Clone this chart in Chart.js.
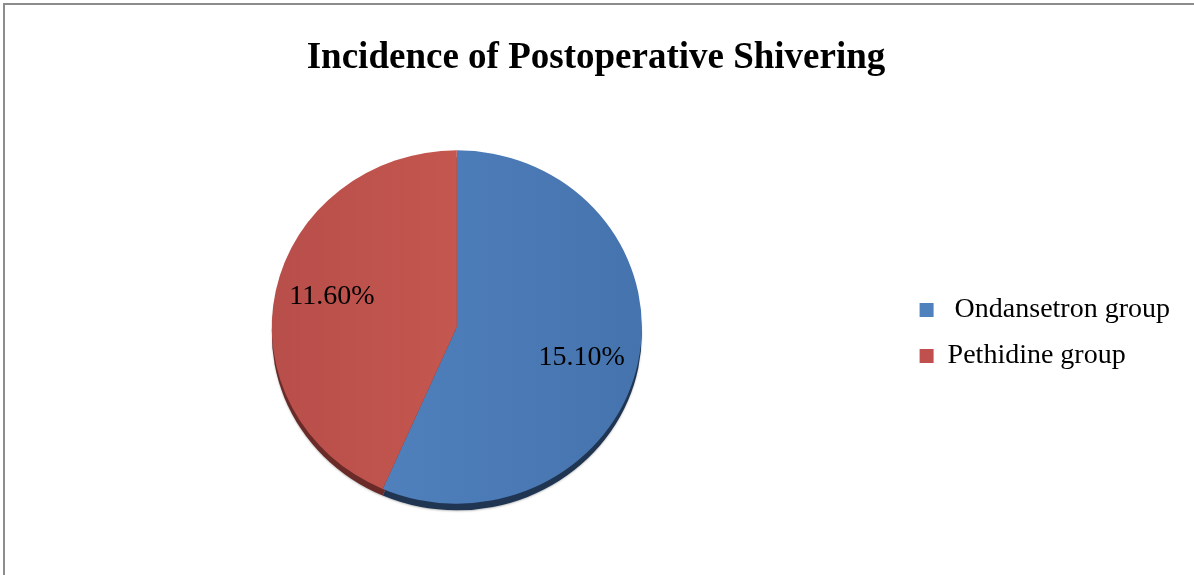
<!DOCTYPE html>
<html>
<head>
<meta charset="utf-8">
<title>Incidence of Postoperative Shivering</title>
<script src="https://cdn.jsdelivr.net/npm/chart.js@4.4.0/dist/chart.umd.min.js"></script>
<style>
  html, body { margin: 0; padding: 0; background: #fff; overflow: hidden; }
  #frame { position: absolute; left: 3px; top: 3px; width: 1300px; height: 700px;
           border-top: 2px solid #8c8c8c; border-left: 2px solid #8c8c8c; }
  #wrap { position: absolute; left: 0; top: 0; width: 1194px; height: 575px; }
</style>
</head>
<body>
<div id="frame"></div>
<div id="wrap"><canvas id="myChart"></canvas></div>
<script>
// data
var categories = [' Ondansetron group', 'Pethidine group'];
var incidence = [15.1, 11.6];

// colours: flat (legend), light/dark edges of the face, and the 3d side
var sliceColors = ['#4F81BD', '#C0504D'];
var faceLight = ['#5486c2', '#c4574f'];
var faceDark = ['#4573ae', '#b84e4a'];
var sideColors = ['#1f3552', '#6a2a27'];

var tilt = 0.955;       // vertical squash of the pie face
var depth = 7;          // thickness of the pie side
var labelSpreadY = 1.18;

var serif = '"Liberation Serif", "Times New Roman", serif';

function faceFill(c) {
  var area = c.chart.chartArea;
  var i = c.dataIndex;
  if (!area) return sliceColors[i];
  var cx = (area.left + area.right) / 2;
  var r = Math.min(area.width, area.height) / 2;
  var g = c.chart.ctx.createLinearGradient(cx - r, 0, cx + r, 0);
  if (i === 0) {
    g.addColorStop(0, faceLight[0]);
    g.addColorStop(1, faceDark[0]);
  } else {
    g.addColorStop(0, faceDark[1]);
    g.addColorStop(0.5, faceLight[1]);
    g.addColorStop(1, faceLight[1]);
  }
  return g;
}

/*
* pie3d: squash the pie, draw a dark side under it, then the % labels
*/
var pie3d = {
  id: 'pie3d',
  beforeDatasetsDraw: function(chart) {
    var arcs = chart.getDatasetMeta(0).data;
    var ctx = chart.ctx;
    if (!arcs.length) return;
    var cx = arcs[0].x, cy = arcs[0].y;
    ctx.save();
    this._saved = true;
    ctx.translate(cx, cy);
    ctx.scale(1, tilt);
    ctx.translate(-cx, -cy);

    ctx.save();
    ctx.shadowColor = 'rgba(0,0,0,0.25)';
    ctx.shadowBlur = 2;
    ctx.shadowOffsetY = 1;
    arcs.forEach(function(a, i) {
      ctx.beginPath();
      ctx.moveTo(a.x, a.y + depth);
      ctx.arc(a.x, a.y + depth, a.outerRadius, a.startAngle, a.endAngle);
      ctx.closePath();
      ctx.fillStyle = sideColors[i];
      ctx.fill();
    });
    ctx.restore();
  },
  afterDatasetsDraw: function(chart) {
    var ctx = chart.ctx;
    if (!this._saved) return;
    ctx.restore();
    this._saved = false;

    var arcs = chart.getDatasetMeta(0).data;
    ctx.save();
    ctx.font = '28px ' + serif;
    ctx.fillStyle = '#000';
    ctx.textAlign = 'center';
    ctx.textBaseline = 'middle';
    arcs.forEach(function(a, i) {
      var mid = (a.startAngle + a.endAngle) / 2;
      var r = a.outerRadius * 0.69;
      var x = a.x + Math.cos(mid) * r;
      var y = a.y + Math.sin(mid) * r * labelSpreadY;
      ctx.fillText(incidence[i].toFixed(2) + '%', x, y);
    });
    ctx.restore();
  }
};

var ctx = document.getElementById('myChart').getContext('2d');
var chart = new Chart(ctx, {
  type: 'pie',
  data: {
    labels: categories,
    datasets: [{
      data: incidence,
      backgroundColor: faceFill,
      borderWidth: 0
    }]
  },
  options: {
    responsive: true,
    maintainAspectRatio: false,
    animation: false,
    layout: {
      padding: { left: 12, right: 14, top: 0, bottom: 63 }
    },
    plugins: {
      title: {
        display: true,
        text: 'Incidence of Postoperative Shivering',
        color: '#000',
        font: { family: serif, size: 37, weight: 'bold' },
        padding: { top: 36, bottom: 61.6 }
      },
      legend: {
        position: 'right',
        fullSize: false,
        // empty title only nudges the items down a little
        title: { display: true, text: '', font: { size: 10 }, padding: 0 },
        labels: {
          color: '#000',
          font: { family: serif, size: 28 },
          boxWidth: 14,
          boxHeight: 14,
          padding: 18,
          generateLabels: function(chart) {
            var items = Chart.overrides.pie.plugins.legend.labels.generateLabels(chart);
            items.forEach(function(it, i) {
              it.fillStyle = sliceColors[i];
              it.strokeStyle = sliceColors[i];
              it.lineWidth = 0;
            });
            return items;
          }
        }
      },
      tooltip: { enabled: false }
    }
  },
  plugins: [pie3d]
});
</script>
</body>
</html>
